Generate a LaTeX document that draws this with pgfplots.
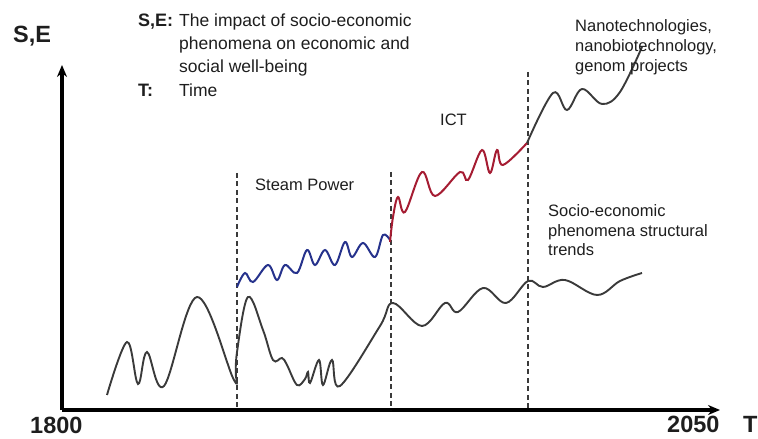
\documentclass[border=0pt]{standalone}
\usepackage{fontspec}
\setmainfont{Liberation Sans}
\usepackage{pgfplots}
\pgfplotsset{compat=1.18}
\usetikzlibrary{arrows.meta}
\definecolor{curvegray}{RGB}{58,58,58}
\definecolor{steamblue}{RGB}{38,50,140}
\definecolor{ictred}{RGB}{165,28,50}
\definecolor{txt}{RGB}{30,30,30}
\begin{document}
\begin{tikzpicture}
\begin{axis}[
  scale only axis, width=658pt, height=345pt,
  xmin=62, xmax=720, ymin=29, ymax=374,
  axis lines=left,
  axis line style={line width=3.2pt, black, -{Stealth[length=12pt,width=10pt]}},
  xtick=\empty, ytick=\empty,
  clip=false,
]
% dashed separators
\addplot[curvegray, line width=1.8pt, dash pattern=on 5pt off 3.5pt, sharp plot] coordinates {(237,266) (237,29)};
\addplot[curvegray, line width=1.8pt, dash pattern=on 5pt off 3.5pt, sharp plot] coordinates {(391,267) (391,29)};
\addplot[curvegray, line width=1.8pt, dash pattern=on 5pt off 3.5pt, sharp plot] coordinates {(528,367) (528,29)};
% lower structural trend curve
\addplot[curvegray, line width=1.9pt, smooth, tension=0.6] coordinates {
 (107,44) (127,97) (138,55) (147,87) (164,53) (197,142) (233,61) (236,62)};
\addplot[curvegray, line width=1.9pt, smooth, tension=0.6] coordinates {
 (236,62) (237,87) (248,142) (263,109) (273,79) (282,81) (287,74) (297,54)
 (305,60) (308,67) (310,56) (319,79) (323,54) (332,79) (340,53) (380,113)
 (393,136) (422,113) (445,136) (458,127) (483,151) (506,136) (528,158)
 (543,152) (565,159) (597,144) (620,158) (642,166)};
% steam power
\addplot[steamblue, line width=2pt, smooth, tension=0.6] coordinates {
 (237,152) (245,166) (253,157) (268,174) (277,159) (285,174) (297,166)
 (307,189) (315,174) (325,189) (335,174) (345,197) (352,182) (363,196)
 (375,182) (383,204) (390,199)};
% ICT
\addplot[ictred, line width=2pt, smooth, tension=0.6] coordinates {
 (390,197) (393,222) (398,242) (405,227) (422,267) (435,243) (460,267)
 (468,259) (482,289) (490,266) (497,289) (503,274) (527,296)};
% nano
\addplot[curvegray, line width=1.9pt, smooth, tension=0.6] coordinates {
 (527,296) (553,346) (567,329) (582,350) (602,335) (620,347) (642,392)};
% texts
\node[anchor=base west, inner sep=0, font=\fontsize{23.5}{26}\selectfont\bfseries, text=txt] at (axis cs:13,396) {S,E};
\node[anchor=base west, inner sep=0, font=\fontsize{18}{20}\selectfont\bfseries, text=txt] at (axis cs:138,412) {S,E:};
\node[anchor=base west, inner sep=0, font=\fontsize{17.5}{20}\selectfont, text=txt] at (axis cs:179,412) {The impact of socio-economic};
\node[anchor=base west, inner sep=0, font=\fontsize{17.5}{20}\selectfont, text=txt] at (axis cs:179,389) {phenomena on economic and};
\node[anchor=base west, inner sep=0, font=\fontsize{17.5}{20}\selectfont, text=txt] at (axis cs:179,366) {social well-being};
\node[anchor=base west, inner sep=0, font=\fontsize{18}{20}\selectfont\bfseries, text=txt] at (axis cs:138,342) {T:};
\node[anchor=base west, inner sep=0, font=\fontsize{17.5}{20}\selectfont, text=txt] at (axis cs:179,342) {Time};
\node[anchor=base west, inner sep=0, font=\fontsize{16.5}{20}\selectfont, text=txt] at (axis cs:255,248) {Steam Power};
\node[anchor=base west, inner sep=0, font=\fontsize{16.5}{20}\selectfont, text=txt] at (axis cs:440,313) {ICT};
\node[anchor=base west, inner sep=0, font=\fontsize{16.5}{20}\selectfont, text=txt] at (axis cs:575,407) {Nanotechnologies,};
\node[anchor=base west, inner sep=0, font=\fontsize{16.5}{20}\selectfont, text=txt] at (axis cs:575,387) {nanobiotechnology,};
\node[anchor=base west, inner sep=0, font=\fontsize{16.5}{20}\selectfont, text=txt] at (axis cs:575,367) {genom projects};
\node[anchor=base west, inner sep=0, font=\fontsize{16.5}{20}\selectfont, text=txt] at (axis cs:548,222) {Socio-economic};
\node[anchor=base west, inner sep=0, font=\fontsize{16.5}{20}\selectfont, text=txt] at (axis cs:548,202) {phenomena structural};
\node[anchor=base west, inner sep=0, font=\fontsize{16.5}{20}\selectfont, text=txt] at (axis cs:548,183) {trends};
\node[anchor=base west, inner sep=0, font=\fontsize{23.5}{26}\selectfont\bfseries, text=txt] at (axis cs:30,5) {1800};
\node[anchor=base west, inner sep=0, font=\fontsize{23.5}{26}\selectfont\bfseries, text=txt] at (axis cs:667,6) {2050};
\node[anchor=base west, inner sep=0, font=\fontsize{23.5}{26}\selectfont\bfseries, text=txt] at (axis cs:743,6) {T};
\coordinate (bbl) at (axis cs:0,0);
\coordinate (btr) at (axis cs:758,439);
\end{axis}
\pgfresetboundingbox
\useasboundingbox (bbl) rectangle (btr);
\end{tikzpicture}
\end{document}
